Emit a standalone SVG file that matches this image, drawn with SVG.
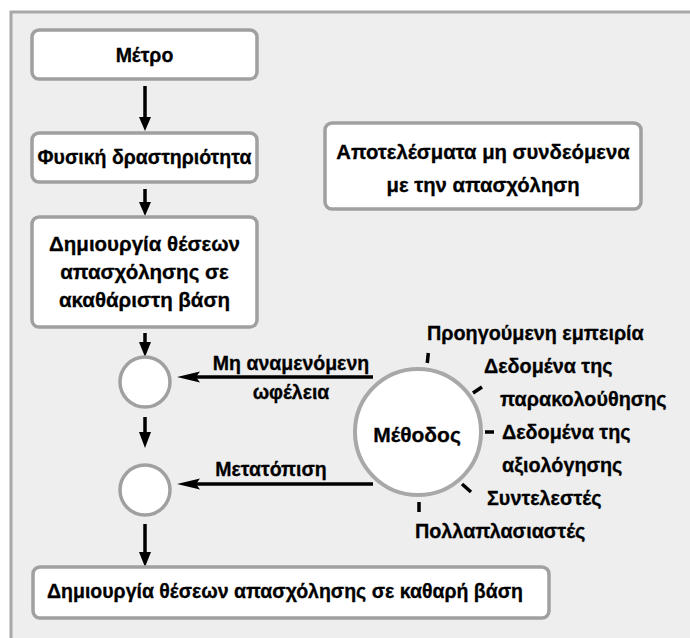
<svg xmlns="http://www.w3.org/2000/svg" width="690" height="638" viewBox="0 0 690 638">
<style>
.box{fill:#ffffff;stroke:#a0a0a0;stroke-width:3.5}
.t{font-family:"Liberation Sans",Arial,sans-serif;font-weight:bold;font-size:19.5px;fill:#000;stroke:#000;stroke-width:0.3;text-anchor:middle}
.l{font-family:"Liberation Sans",Arial,sans-serif;font-weight:bold;font-size:19.8px;fill:#000;stroke:#000;stroke-width:0.3}
.c{stroke:#000;stroke-width:3.5;fill:none}
.tick{stroke:#000;stroke-width:3.5;fill:none}
</style>
<rect x="0" y="0" width="690" height="638" fill="#ffffff"/>
<rect x="11" y="12" width="700" height="650" fill="#eeeeee" stroke="#a8a8a8" stroke-width="3"/>

<g id="connectors">
  <line class="c" x1="145" y1="86" x2="145" y2="120"/>
  <polygon points="139,117 151,117 145,131"/>
  <line class="c" x1="145" y1="189" x2="145" y2="205"/>
  <polygon points="139,202 151,202 145,216"/>
  <line class="c" x1="145" y1="333" x2="145" y2="346"/>
  <polygon points="139,342 151,342 145,357"/>
  <line class="c" x1="145" y1="417" x2="145" y2="436"/>
  <polygon points="139,432 151,432 145,448"/>
  <line class="c" x1="145" y1="524" x2="145" y2="556"/>
  <polygon points="139,552 151,552 145,567"/>
  <line class="c" x1="373" y1="377" x2="192" y2="377"/>
  <polygon points="177,377 200,371.5 196,377 200,382.5"/>
  <line class="c" x1="373" y1="484" x2="192" y2="484"/>
  <polygon points="177,484 200,478.5 196,484 200,489.5"/>
  <text class="t" x="291" y="370">Μη αναμενόμενη</text>
  <text class="t" x="291" y="399">ωφέλεια</text>
  <text class="t" x="271" y="476">Μετατόπιση</text>
</g>

<g id="n-metro">
  <rect class="box" x="32" y="30" width="225" height="49" rx="7"/>
  <text class="t" x="144.5" y="62">Μέτρο</text>
</g>
<g id="n-fysiki">
  <rect class="box" x="32" y="133" width="225" height="49" rx="7"/>
  <text class="t" x="144.5" y="164">Φυσική δραστηριότητα</text>
</g>
<g id="n-akatharisti">
  <rect class="box" x="32" y="217" width="225" height="110" rx="7"/>
  <text class="t" x="144.5" y="251" style="font-size:20.5px">Δημιουργία θέσεων</text>
  <text class="t" x="144.5" y="279" style="font-size:20.5px">απασχόλησης σε</text>
  <text class="t" x="144.5" y="307" style="font-size:20.5px">ακαθάριστη βάση</text>
</g>
<g id="n-circle1">
  <circle cx="145" cy="382" r="25" fill="#ffffff" stroke="#a0a0a0" stroke-width="3.5"/>
</g>
<g id="n-circle2">
  <circle cx="145" cy="490" r="25" fill="#ffffff" stroke="#a0a0a0" stroke-width="3.5"/>
</g>
<g id="n-kathari">
  <rect class="box" x="33" y="567" width="516" height="51" rx="7"/>
  <text class="t" x="285" y="598">Δημιουργία θέσεων απασχόλησης σε καθαρή βάση</text>
</g>
<g id="n-apotelesmata">
  <rect class="box" x="325" y="123" width="316" height="86" rx="7"/>
  <text class="t" x="483" y="159" style="font-size:20.3px">Αποτελέσματα μη συνδεόμενα</text>
  <text class="t" x="483" y="192" style="font-size:20.3px">με την απασχόληση</text>
</g>
<g id="n-methodos">
  <circle cx="418" cy="432" r="63" fill="#ffffff" stroke="#a8a8a8" stroke-width="4"/>
  <text class="t" x="417" y="442" style="font-size:21px">Μέθοδος</text>
  <line class="tick" x1="428.3" y1="353" x2="427.3" y2="363"/>
  <line class="tick" x1="473" y1="393" x2="482" y2="387"/>
  <line class="tick" x1="485" y1="432" x2="494" y2="432"/>
  <line class="tick" x1="462" y1="484" x2="471" y2="492"/>
  <line class="tick" x1="419" y1="502" x2="419" y2="512"/>
  <text class="l" x="427" y="340">Προηγούμενη εμπειρία</text>
  <text class="l" x="484" y="373">Δεδομένα της</text>
  <text class="l" x="500" y="406">παρακολούθησης</text>
  <text class="l" x="502" y="439">Δεδομένα της</text>
  <text class="l" x="502" y="472">αξιολόγησης</text>
  <text class="l" x="487" y="505">Συντελεστές</text>
  <text class="l" x="415" y="538">Πολλαπλασιαστές</text>
</g>
</svg>
